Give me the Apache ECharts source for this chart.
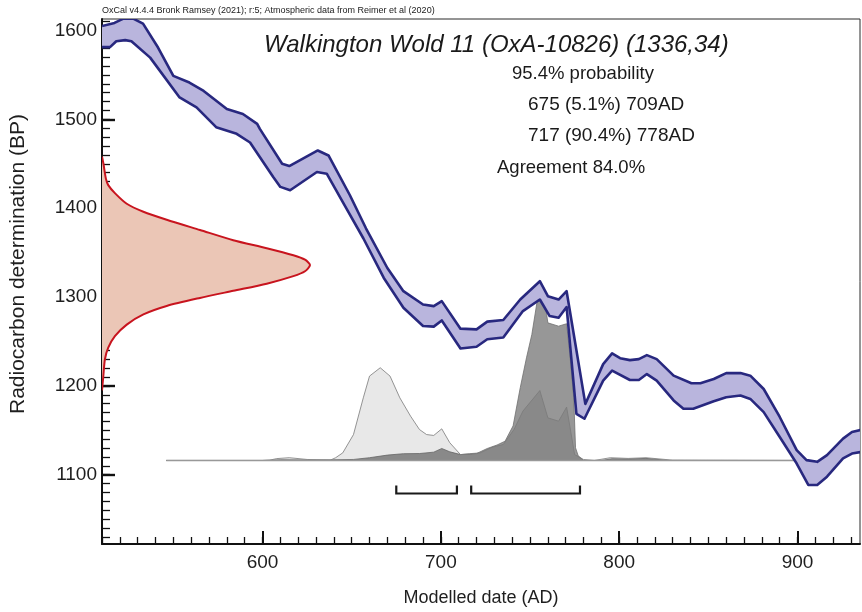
<!DOCTYPE html>
<html>
<head>
<meta charset="utf-8">
<script src="https://cdn.jsdelivr.net/npm/echarts@6/dist/echarts.min.js"></script>
<style>
  html, body { margin: 0; padding: 0; background: #ffffff; }
  #chart { width: 862px; height: 612px; }
</style>
</head>
<body>
<div id="chart"></div>
<script>
// Calibration curve (1-sigma envelope), [year AD, radiocarbon age BP]
const curveUpper = [
  [510, 1605], [517, 1608.6], [522, 1613.4], [527.5, 1613.4], [533, 1607.8], [541.5, 1580.6],
  [550, 1549], [559, 1541.5], [567, 1532], [580, 1511.6], [589, 1506], [597, 1495], [598.5, 1489.3],
  [611, 1450], [615, 1447.5], [631, 1465], [637, 1459.4], [649, 1414.6], [658, 1377.4],
  [670, 1332.7], [679, 1306.6], [690, 1291.6], [696, 1289.8], [700.5, 1295.4], [711, 1264.4],
  [720, 1263.6], [726, 1272.3], [735, 1274.2], [744.5, 1297.2], [755.5, 1317.8], [760, 1301],
  [766, 1297.2], [770.5, 1306.6], [781, 1179.7], [791, 1224.5], [796, 1236.5], [800.5, 1231.2],
  [806, 1229], [811, 1230.1], [815.5, 1234.6], [821, 1230.1], [830.5, 1211.5], [840.5, 1203],
  [845.5, 1203], [853, 1207.7], [860, 1214.4], [868, 1214.4], [873.5, 1211.5], [881, 1196.5],
  [890, 1165], [899.5, 1127.6], [905, 1116.4], [911, 1114.5], [916.5, 1122], [925.5, 1140.6],
  [930.5, 1148], [936, 1150.7]
];
const curveLower = [
  [510, 1581.3], [514.5, 1581.3], [518, 1588], [523, 1589.2], [526.5, 1588], [537, 1569.5],
  [553.5, 1524.7], [563, 1513.5], [574, 1491.2], [585.5, 1483.7], [593, 1474], [606, 1435.2],
  [610, 1424], [615.5, 1420.2], [630.5, 1440.8], [636, 1438.9], [647, 1399.8], [656.5, 1366.2],
  [668, 1321.5], [679, 1287.9], [690, 1267.4], [696, 1266.7], [700.5, 1273.7], [711, 1242.1],
  [720, 1244], [726, 1252.5], [735, 1254.4], [746, 1284.2], [755.5, 1297.2], [761, 1278.6],
  [766, 1276.7], [770.5, 1288.7], [776, 1168.6], [780.5, 1163], [791, 1205.9], [796, 1217.1],
  [806, 1206.6], [811, 1206.6], [815.5, 1213.3], [821, 1205.9], [830.5, 1183.6], [836, 1174.2],
  [841.5, 1174.2], [853, 1182.8], [860, 1187.2], [868, 1189.1], [873.5, 1185.3], [881, 1170.5],
  [890, 1142.5], [899.5, 1112.6], [906, 1088.5], [911, 1088.5], [916.5, 1097.8], [925.5, 1118.3],
  [930.5, 1123.8], [936, 1125.7]
];

// Radiocarbon measurement 1336 ± 34 BP, [BP, relative probability]
const likelihood = [
  [1458, 0], [1450, 0.007], [1433, 0.019], [1426, 0.03], [1417, 0.062], [1405, 0.119],
  [1396, 0.199], [1387, 0.311], [1375.5, 0.471], [1364, 0.631], [1355, 0.792], [1347, 0.92],
  [1342, 0.976], [1336, 1], [1329, 0.976], [1323.5, 0.92], [1315, 0.792], [1307, 0.631],
  [1299, 0.471], [1290, 0.311], [1280.5, 0.199], [1269, 0.119], [1256, 0.062], [1243, 0.03],
  [1230, 0.014], [1210, 0.006], [1195, 0]
];

// Unmodelled calibrated date, [year AD, relative probability]
const priorDist = [
  [546, 0], [600, 0], [604, 0.002], [608, 0.011], [615, 0.016], [625, 0.006], [638, 0.002],
  [641, 0.016], [645, 0.044], [651, 0.149], [656.5, 0.36], [660, 0.485], [666, 0.533],
  [671.5, 0.485], [677, 0.36], [683, 0.255], [688, 0.178], [692, 0.149], [696, 0.144],
  [700.5, 0.182], [705, 0.102], [711, 0.034], [716, 0.039], [722, 0.044], [729, 0.077],
  [735, 0.092], [741, 0.178], [746, 0.284], [755.5, 0.402], [760, 0.245], [766, 0.226],
  [770.5, 0.307], [775, 0.034], [780, 0.006], [786, 0], [795, 0.016], [805, 0.012],
  [815, 0.016], [830, 0.002], [900, 0]
];

// Modelled date, [year AD, relative probability]
const posteriorDist = [
  [546, 0], [600, 0], [610, 0.004], [625, 0.003], [640, 0.004], [651, 0.006], [660, 0.016],
  [670, 0.031], [679, 0.039], [688, 0.04], [696, 0.048], [700.5, 0.069], [705, 0.05],
  [711, 0.034], [720, 0.04], [726, 0.069], [731.5, 0.089], [736, 0.111], [740.5, 0.199],
  [744.5, 0.418], [748, 0.59], [751, 0.724], [754, 0.916], [755.5, 1], [758.5, 0.895],
  [760, 0.791], [766, 0.772], [770.5, 0.786], [772.5, 0.59], [774.5, 0.36], [775.5, 0.073],
  [777, 0.027], [780, 0], [790, 0], [796, 0.01], [805, 0.008], [815, 0.012], [828, 0], [900, 0]
];

// Span over which the date distributions are plotted (AD)
const distRange = [546, 900];

// 95.4% highest posterior density ranges (AD)
const ranges95 = [[675, 709], [717, 778]];

// Axis ticks
const xTickLabels = [600, 700, 800, 900];
const yTickLabels = [1100, 1200, 1300, 1400, 1500, 1600];

// Texts
const headerText = 'OxCal v4.4.4 Bronk Ramsey (2021); r:5; Atmospheric data from Reimer et al (2020)';
const titleText = 'Walkington Wold 11 (OxA-10826) (1336,34)';
const infoLines = ['95.4% probability', '675 (5.1%) 709AD', '717 (90.4%) 778AD', 'Agreement 84.0%'];
const xName = 'Modelled date (AD)';
const yName = 'Radiocarbon determination (BP)';

// ---- layout / styling ----
const X_MIN = 510, X_MAX = 935;
const Y_MIN = 1022, Y_MAX = 1613;
const FONT = '"Liberation Sans", Arial, Helvetica, sans-serif';
const BAND_FILL = '#b9b5dd';
const BAND_LINE = '#28287f';
const LIK_FILL = '#ebc6b6';
const LIK_LINE = '#c8141e';
const DIST_BASE_BP = 1116;   // baseline level of the date distributions
const DIST_HEIGHT = 174;     // pixel height of a relative probability of 1
const LIK_WIDTH = 208;       // pixel width of a relative probability of 1

const xMinor = [];
for (let v = X_MIN; v <= X_MAX; v += 10) xMinor.push(v);
const yMinor = [];
for (let v = 1030; v <= Y_MAX; v += 10) yMinor.push(v);

const chart = echarts.init(document.getElementById('chart'), null, { renderer: 'canvas' });

function bandItem(params, api) {
  if (params.dataIndex !== 0) return null;
  const up = curveUpper.map(p => api.coord(p));
  const lo = curveLower.map(p => api.coord(p));
  return {
    type: 'group',
    children: [
      { type: 'polygon', shape: { points: up.concat(lo.slice().reverse()) }, style: { fill: BAND_FILL } },
      { type: 'polyline', shape: { points: up }, style: { stroke: BAND_LINE, lineWidth: 2.6, fill: null, lineJoin: 'round' } },
      { type: 'polyline', shape: { points: lo }, style: { stroke: BAND_LINE, lineWidth: 2.6, fill: null, lineJoin: 'round' } }
    ]
  };
}

function likelihoodItem(params, api) {
  if (params.dataIndex !== 0) return null;
  const pts = likelihood.map(p => {
    const c = api.coord([X_MIN, p[0]]);
    return [c[0] + p[1] * LIK_WIDTH, c[1]];
  });
  return {
    type: 'group',
    children: [
      { type: 'polygon', shape: { points: pts, smooth: 0.25 }, style: { fill: LIK_FILL } },
      { type: 'polyline', shape: { points: pts, smooth: 0.25 }, style: { stroke: LIK_LINE, lineWidth: 2, fill: null } }
    ]
  };
}

function distPoints(api, dist) {
  return dist.map(p => {
    const c = api.coord([p[0], DIST_BASE_BP]);
    return [c[0], c[1] - p[1] * DIST_HEIGHT];
  });
}

function distItem(params, api) {
  if (params.dataIndex !== 0) return null;
  const post = distPoints(api, posteriorDist);
  const prior = distPoints(api, priorDist);
  const b0 = api.coord([distRange[0], DIST_BASE_BP]);
  const b1 = api.coord([distRange[1], DIST_BASE_BP]);
  return {
    type: 'group',
    children: [
      { type: 'polygon', shape: { points: post }, style: { fill: '#979797', stroke: '#707070', lineWidth: 0.8 } },
      { type: 'polygon', shape: { points: prior }, style: { fill: 'rgba(0,0,0,0.09)', stroke: '#7a7a7a', lineWidth: 0.8 } },
      { type: 'line', shape: { x1: b0[0], y1: b0[1], x2: b1[0], y2: b1[1] }, style: { stroke: '#999999', lineWidth: 1.6 } }
    ]
  };
}

function bracketItem(params, api) {
  const base = api.coord([api.value(0), DIST_BASE_BP]);
  const end = api.coord([api.value(1), DIST_BASE_BP]);
  const yTop = base[1] + 25, yBot = base[1] + 33;
  return {
    type: 'polyline',
    shape: { points: [[base[0], yTop], [base[0], yBot], [end[0], yBot], [end[0], yTop]] },
    style: { stroke: '#1a1a1a', lineWidth: 2.2, fill: null }
  };
}

const tickLabelStyle = { fontFamily: FONT, fontSize: 19, color: '#1e1e1e', formatter: v => String(v) };

const option = {
  animation: false,
  backgroundColor: '#ffffff',
  grid: { left: 102, top: 19, width: 758, height: 528, show: true, borderColor: '#2a2a2a', borderWidth: 1 },
  xAxis: [
    {
      type: 'value', min: X_MIN, max: X_MAX, position: 'bottom',
      name: xName, nameLocation: 'middle', nameGap: 45,
      nameTextStyle: { fontFamily: FONT, fontSize: 18, color: '#1e1e1e' },
      axisLine: { show: true, onZero: false, lineStyle: { color: '#111', width: 2 } },
      axisTick: { show: true, inside: true, length: 13, customValues: xTickLabels, lineStyle: { color: '#111', width: 2 } },
      axisLabel: { show: true, margin: 9, customValues: xTickLabels, ...tickLabelStyle },
      splitLine: { show: false }
    },
    {
      type: 'value', min: X_MIN, max: X_MAX, position: 'bottom',
      axisLine: { show: false },
      axisTick: { show: true, inside: true, length: 7, customValues: xMinor, lineStyle: { color: '#111', width: 1.3 } },
      axisLabel: { show: false },
      splitLine: { show: false }
    }
  ],
  yAxis: [
    {
      type: 'value', min: Y_MIN, max: Y_MAX, position: 'left',
      axisLine: { show: true, onZero: false, lineStyle: { color: '#111', width: 2 } },
      axisTick: { show: true, inside: true, length: 13, customValues: yTickLabels, lineStyle: { color: '#111', width: 2.4 } },
      axisLabel: { show: true, margin: 5, customValues: yTickLabels, ...tickLabelStyle },
      splitLine: { show: false }
    },
    {
      type: 'value', min: Y_MIN, max: Y_MAX, position: 'left',
      axisLine: { show: false },
      axisTick: { show: true, inside: true, length: 8, customValues: yMinor, lineStyle: { color: '#111', width: 1.3 } },
      axisLabel: { show: false },
      splitLine: { show: false }
    }
  ],
  series: [
    { type: 'custom', name: 'distributions', renderItem: distItem, data: posteriorDist, encode: { x: 0, y: 1 }, clip: true, silent: true, z: 2 },
    { type: 'custom', name: 'calibration curve', renderItem: bandItem, data: curveUpper, encode: { x: 0, y: 1 }, clip: true, silent: true, z: 3 },
    { type: 'custom', name: 'likelihood', renderItem: likelihoodItem, data: likelihood.map(p => [X_MIN, p[0]]), encode: { x: 0, y: 1 }, clip: true, silent: true, z: 3 },
    { type: 'custom', name: '95.4% ranges', renderItem: bracketItem, data: ranges95, encode: { x: [0, 1] }, silent: true, z: 4 }
  ],
  graphic: [
    { type: 'text', x: 102, y: 11, style: { text: headerText, font: '9px ' + FONT, fill: '#222', verticalAlign: 'middle' } },
    { type: 'text', x: 18, y: 264, rotation: Math.PI / 2, style: { text: yName, font: '21px ' + FONT, fill: '#1e1e1e', align: 'center', verticalAlign: 'middle' } },
    { type: 'text', x: 264, y: 45, style: { text: titleText, font: 'italic 24px ' + FONT, fill: '#1a1a1a', verticalAlign: 'middle' } },
    { type: 'text', x: 512, y: 74, style: { text: infoLines[0], font: '18.5px ' + FONT, fill: '#1a1a1a', verticalAlign: 'middle' } },
    { type: 'text', x: 528, y: 105, style: { text: infoLines[1], font: '19px ' + FONT, fill: '#1a1a1a', verticalAlign: 'middle' } },
    { type: 'text', x: 528, y: 136, style: { text: infoLines[2], font: '19px ' + FONT, fill: '#1a1a1a', verticalAlign: 'middle' } },
    { type: 'text', x: 497, y: 168, style: { text: infoLines[3], font: '18.5px ' + FONT, fill: '#1a1a1a', verticalAlign: 'middle' } }
  ]
};

chart.setOption(option);
</script>
</body>
</html>
